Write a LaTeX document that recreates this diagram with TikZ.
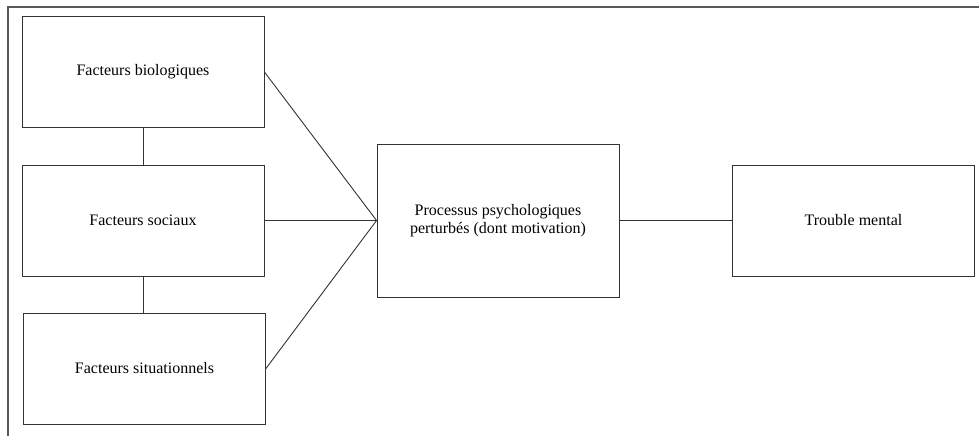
\documentclass[tikz,border=0pt]{standalone}
\usepackage{fontspec}
\setmainfont{Liberation Serif}
\begin{document}
\begin{tikzpicture}[x=1pt, y=-1pt,
    box/.style={draw=black!80, line width=0.9pt, minimum width=242pt, minimum height=111pt,
        inner sep=0pt, align=center, font=\fontsize{16}{18.5}\selectfont},
    link/.style={draw=black!80, line width=0.9pt}]
                \useasboundingbox (0,0) rectangle (979,436);
                \draw[black!65, line width=1.2pt] (8,436) |- (979,7);
                \node[box] (bio) at (143,72) {Facteurs biologiques};
                \node[box] (soc) at (143,220.5) {Facteurs sociaux};
                \node[box] (sit) at (144.5,368.5) {Facteurs situationnels};
                \node[box, minimum height=153pt] (proc) at (498,220.5) {Processus psychologiques\\perturbés (dont motivation)};
                \node[box] (trouble) at (853.5,220.5) {Trouble mental};
                \draw[link] (bio.south) -- (soc.north);
                \draw[link] (soc.south) -- (soc.south |- sit.north);
                \draw[link] (bio.east) -- (proc.west);
                \draw[link] (soc.east) -- (proc.west);
                \draw[link] (sit.east) -- (proc.west);
                \draw[link] (proc.east) -- (trouble.west);
            \end{tikzpicture}
\end{document}
